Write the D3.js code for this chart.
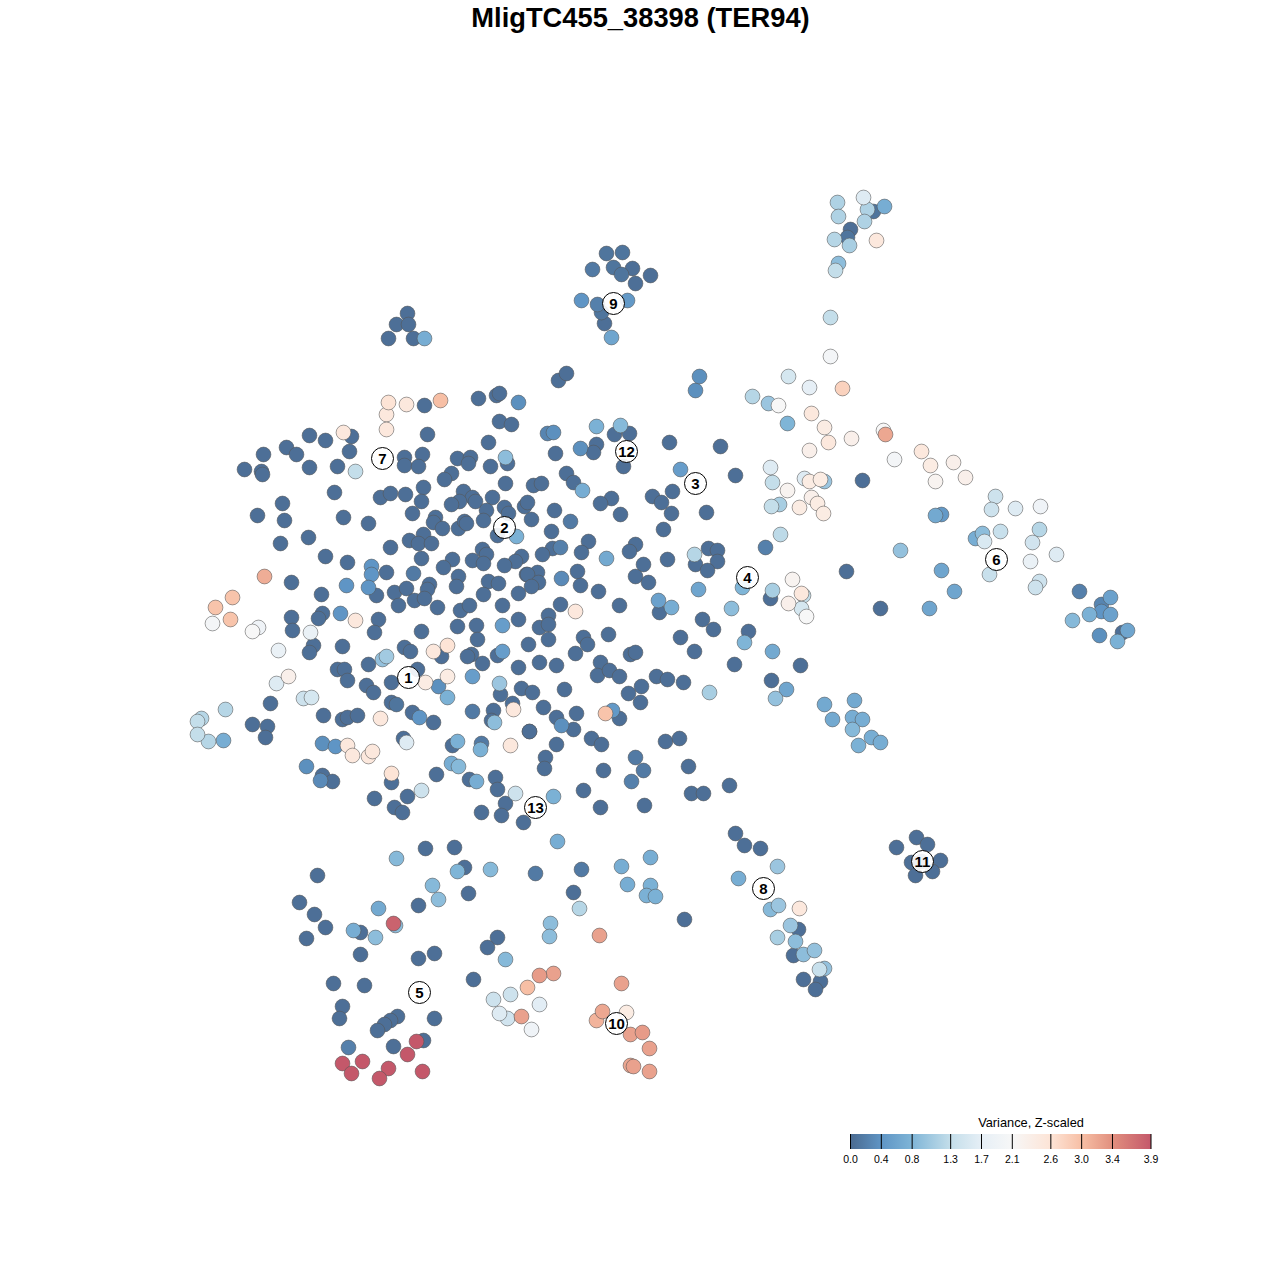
<!DOCTYPE html>
<html>
<head>
<meta charset="utf-8">
<script src="https://cdn.jsdelivr.net/npm/d3@7"></script>
<style>
  html, body { margin: 0; background: #fff; }
  text { font-family: "Liberation Sans", Arial, sans-serif; }
</style>
</head>
<body>
<div id="chart"></div>
<script>
// cells as [tSNE 1, tSNE 2, variance]
const coreUpperLeft = [
  [388,402,2.6],[406,404,2.5],[424,405,0.05],[440,400,3.0],[478,398,0.05],[496,395,0.05],[499,393,0.05],[518,402,0.35],
  [386,414,2.5],[386,429,2.5],[499,421,0.05],[511,424,0.05],[427,434,0.05],[343,432,2.5],[351,436,0.05],[309,435,0.05],
  [325,440,0.05],[286,447,0.05],[296,454,0.05],[263,454,0.05],[349,451,0.05],[488,442,0.05],[404,457,0.05],[422,454,0.05],
  [404,465,0.05],[418,466,0.05],[457,458,0.05],[470,457,0.05],[468,463,0.05],[490,466,0.05],[505,457,0.9],[507,463,0.05],
  [244,469,0.05],[261,471,0.05],[262,474,0.05],[309,467,0.05],[337,466,0.05],[355,471,1.3],[451,473,0.05],[444,479,0.05],
  [423,487,0.05],[505,483,0.05],[533,485,0.05],[334,492,0.05],[380,497,0.05],[390,493,0.05],[405,494,0.05],[421,501,0.05],
  [463,491,0.05],[472,497,0.05],[459,501,0.05],[451,504,0.05],[475,501,0.05],[492,497,0.05],[486,510,0.05],[504,507,0.05],
  [508,513,0.05],[524,506,0.05],[527,502,0.05],[282,503,0.05],[257,515,0.05],[284,520,0.05],[343,517,0.05],[368,523,0.05],
  [412,513,0.05],[435,517,0.05],[433,522,0.05],[442,528,0.05],[458,528,0.05],[464,521,0.05],[466,523,0.05],[483,520,0.05],
  [531,519,0.05],[280,543,0.05],[308,537,0.05],[390,547,0.05],[409,540,0.05],[423,534,0.05],[418,543,0.05],[431,543,0.05],
  [497,535,0.05],[516,536,0.75]
];
const coreLowerLeft = [
  [325,556,0.05],[347,562,0.05],[371,566,0.4],[371,574,0.4],[386,572,0.05],[421,558,0.05],[452,559,0.05],[443,567,0.05],
  [472,560,0.05],[482,549,0.05],[486,554,0.05],[483,563,0.05],[521,556,0.05],[515,561,0.05],[504,565,0.05],[526,574,0.05],
  [413,573,0.15],[458,576,0.05],[456,586,0.05],[488,581,0.05],[498,583,0.05],[264,576,3.15],[291,582,0.05],[346,585,0.4],
  [368,587,0.4],[376,595,0.05],[394,592,0.05],[406,588,0.05],[429,584,0.05],[427,589,0.05],[414,600,0.05],[424,598,0.05],
  [483,594,0.05],[518,593,0.05],[232,597,2.95],[321,594,0.05],[398,605,0.05],[437,607,0.05],[460,610,0.05],[469,605,0.05],
  [502,605,0.05],[230,619,2.95],[215,607,2.95],[291,617,0.05],[322,613,0.05],[318,618,0.05],[340,613,0.4],[355,620,2.5],
  [378,619,0.05],[374,632,0.05],[252,631,2.1],[258,627,1.9],[292,630,0.05],[310,632,1.8],[457,626,0.05],[476,625,0.05],
  [502,625,0.5],[518,619,0.05],[421,631,0.05],[477,639,0.05],[278,650,1.8],[342,646,0.05],[313,645,0.05],[309,652,0.05],
  [404,647,0.05],[410,651,0.05],[433,651,2.5],[447,645,2.6],[441,656,0.05],[382,659,0.95],[386,656,1.05],[368,664,0.05],
  [471,654,0.05],[467,656,0.05],[482,663,0.05],[497,655,0.05],[502,651,0.5],[528,644,0.05],[518,667,0.05],[337,669,0.05],
  [344,669,0.05],[347,680,0.05]
];
const coreBottomLeft = [
  [288,676,2.3],[276,683,1.6],[366,685,0.05],[373,692,0.05],[391,682,0.05],[417,669,0.05],[425,682,2.4],[447,676,2.4],
  [438,686,0.35],[447,697,0.75],[472,676,0.5],[499,683,1.0],[500,694,0.05],[521,688,0.05],[532,692,0.05],[303,698,1.4],
  [311,697,1.5],[270,703,0.05],[391,702,0.05],[396,704,0.1],[412,712,0.05],[419,717,0.4],[433,722,0.05],[472,711,0.15],
  [493,710,0.05],[491,720,0.05],[494,722,0.9],[512,703,0.05],[513,709,2.5],[323,715,0.05],[342,719,0.05],[347,717,0.05],
  [357,715,0.05],[380,718,2.5],[252,724,0.05],[267,726,0.05],[265,737,0.05],[322,743,0.35],[335,746,0.4],[347,745,2.5],
  [352,755,2.5],[368,756,2.5],[372,751,2.5],[403,738,0.05],[406,742,1.6],[452,745,0.05],[457,741,0.75],[481,743,0.15],
  [480,749,0.75],[510,745,2.5],[529,731,0.05],[306,766,0.35],[322,775,0.05],[320,780,0.3],[332,781,0.05],[451,763,0.7],
  [458,766,0.85],[436,774,0.05],[391,773,2.6],[391,782,0.05],[469,779,0.05],[476,781,0.7],[495,777,0.05],[497,789,0.05],
  [515,793,1.4],[421,790,1.4],[407,796,0.05],[374,798,0.05],[394,807,0.05],[402,812,0.05],[505,803,0.05],[481,812,0.05],
  [501,815,0.05],[523,822,0.05]
];
const coreRight = [
  [695,390,0.35],[699,376,0.35],[752,396,1.2],[768,403,1.0],[778,405,2.1],[787,423,0.8],[558,380,0.05],[566,373,0.05],
  [596,426,0.75],[620,425,0.85],[614,434,0.05],[629,433,0.05],[547,433,0.25],[553,432,0.35],[669,442,0.05],[720,446,0.05],
  [580,448,0.35],[596,444,0.05],[593,452,0.05],[555,453,0.05],[623,466,0.05],[680,469,0.5],[735,475,0.05],[770,467,1.6],
  [772,482,1.3],[787,490,2.2],[566,473,0.05],[573,482,0.05],[582,490,0.7],[541,483,0.05],[672,491,0.05],
  [652,496,0.05],[661,502,0.05],[611,498,0.05],[600,503,0.05],[554,510,0.05],[671,513,0.05],[706,512,0.05],[620,514,0.05],
  [570,521,0.15],[663,529,0.05],[551,531,0.05],[771,506,1.3],[779,504,1.1],[799,507,2.4],[780,534,1.25],[765,547,0.2],
  [588,541,0.05],[581,552,0.05],[606,558,0.65],[635,544,0.05],[629,551,0.05],[552,548,0.05],[560,547,0.2],[542,554,0.05],
  [667,559,0.05],[643,564,0.05],[694,554,1.2],[695,564,0.05],[708,548,0.05],[717,550,0.05],[717,561,0.05],[707,570,0.05],
  [577,571,0.05],[537,572,0.05],[527,574,0.05],[538,582,0.05],[531,586,0.05],[561,578,0.3],[635,576,0.05],[580,585,0.05],
  [648,582,0.05],[598,591,0.05],[698,589,0.6],[742,587,0.8],[772,590,1.1],[770,598,0.05],[658,600,0.55],[671,607,0.7],
  [659,612,0.05],[731,608,0.9],[560,604,0.05],[575,611,2.5],[619,605,0.05],[548,615,0.05],[539,627,0.05],[548,624,0.05],
  [702,619,0.05],[713,629,0.05],[748,631,0.05],[744,642,0.8],[608,634,0.05],[548,639,0.05],[583,637,0.05],[587,644,0.05],
  [680,637,0.05],[694,651,0.05],[575,653,0.05],[630,654,0.05],[635,652,0.05],[772,651,0.65],[539,662,0.05],[556,665,0.05],
  [600,662,0.05],[597,675,0.05],[609,670,0.05],[619,676,0.05],[656,676,0.05],[667,679,0.05],[683,682,0.05],[734,664,0.05],
  [800,665,0.05],[641,686,0.05],[628,693,0.05],[640,702,0.05],[564,689,0.05],[709,692,1.1],[771,680,0.05],[786,689,0.6],
  [775,698,0.95],[543,707,0.05],[556,717,0.05],[576,713,0.05],[561,725,0.35],[573,729,0.05],[605,713,2.95],[612,710,0.45],
  [619,718,0.05],[529,731,0.05],[591,738,0.05],[601,744,0.05],[556,744,0.05],[545,757,0.05],[544,768,0.05],[665,741,0.05],
  [679,738,0.05],[635,757,0.15],[643,770,0.15],[631,781,0.2],[603,770,0.05],[688,766,0.05],[691,793,0.05],[703,793,0.05],
  [729,785,0.05],[583,790,0.05],[553,796,0.75],[600,807,0.05],[644,805,0.05]
];
const upperClusters = [
  [606,253,0.1],[622,252,0.1],[592,269,0.15],[613,267,0.1],[632,268,0.05],[621,274,0.1],[650,275,0.05],[635,283,0.05],
  [581,300,0.4],[597,304,0.2],[627,300,0.45],[601,312,0.1],[604,323,0.05],[611,337,0.6],
  [407,313,0.05],[396,324,0.05],[408,324,0.05],[388,338,0.05],[413,338,0.05],[424,338,0.7],
  [837,202,1.15],[863,197,1.6],[867,209,1.15],[873,211,0.1],[884,206,0.7],[838,216,1.15],[864,221,1.15],[850,229,0.05],
  [847,237,0.1],[834,239,1.2],[849,245,1.1],[876,240,2.5],[838,263,0.9],[835,270,1.3],[830,317,1.3],[830,356,2.0]
];
const rightArm = [
  [788,376,1.5],[809,387,1.7],[842,388,2.8],[811,413,2.5],[824,427,2.4],[828,442,2.5],[851,438,2.3],[809,450,2.3],
  [883,430,2.1],[885,434,3.2],[921,451,2.5],[930,465,2.4],[953,462,2.3],[894,459,2.0],[935,481,2.2],[965,477,2.3],
  [804,478,1.6],[809,481,2.4],[820,479,2.4],[824,481,1.0],[811,497,2.3],[817,503,2.4],[823,513,2.4],[862,480,0.05],
  [995,496,1.4],[991,509,1.4],[1015,508,1.6],[1040,506,1.9],[935,515,0.65],[941,514,0.45],[1039,529,1.2],[982,533,0.9],
  [975,538,0.7],[1000,531,1.35],[984,541,1.55],[1032,542,1.45],[900,550,0.95],[1056,554,1.6],[1030,561,1.8],[941,570,0.6],
  [989,574,1.35],[1039,581,1.4],[1035,587,1.4],[954,591,0.6],[929,608,0.6],[880,608,0.05],[846,571,0.05],[1079,591,0.2],
  [1110,597,0.55],[1101,604,0.25],[1101,611,0.4],[1089,614,0.75],[1110,614,0.55],[1072,620,0.85],[1099,635,0.35],[1122,632,0.05],
  [1127,630,0.6],[1117,641,0.75],
  [792,579,2.2],[801,593,2.5],[803,595,1.3],[788,603,2.3],[801,608,1.5],[806,616,2.1],
  [824,704,0.65],[854,700,0.65],[832,719,0.65],[852,717,0.7],[862,719,0.7],[852,729,0.85],[871,737,0.7],[880,742,0.7],[858,745,0.75]
];
const farLeft = [
  [197,721,1.3],[201,718,1.2],[197,734,1.3],[208,741,1.2],[223,740,0.7],[225,709,1.2],[212,623,2.0]
];
const lowerArm = [
  [916,837,0.05],[927,844,0.05],[896,847,0.05],[911,862,0.05],[940,860,0.05],[932,871,0.05],[915,875,0.05],[921,861,0.05],
  [735,833,0.05],[744,845,0.05],[760,848,0.05],[777,866,1.0],[738,878,0.7],[799,908,2.5],[778,905,1.0],[770,909,0.85],
  [790,925,1.0],[798,929,0.05],[777,937,1.1],[795,941,0.9],[793,955,0.05],[803,954,0.9],[814,950,0.95],[824,968,0.95],
  [819,969,1.35],[803,979,0.05],[820,981,0.05],[815,989,0.05]
];
const bottomCells = [
  [557,841,0.7],[425,848,0.05],[454,847,0.05],[396,858,0.85],[464,867,0.05],[457,871,0.8],[490,869,0.85],[535,873,0.15],
  [581,869,0.15],[621,866,0.7],[650,857,0.7],[317,875,0.05],[432,885,0.85],[627,884,0.7],[650,885,0.75],[646,895,0.75],
  [655,896,0.75],[573,892,0.05],[468,893,0.05],[438,899,0.9],[418,905,0.05],[299,902,0.05],[579,908,1.2],[378,908,0.65],
  [314,914,0.05],[684,919,0.05],[393,923,3.8],[395,925,0.9],[550,923,0.9],[325,927,0.05],[353,930,0.7],[360,932,0.05],
  [375,937,0.9],[549,936,0.9],[599,935,3.25],[306,938,0.05],[497,937,0.05],[487,947,0.05],[434,953,0.05],[360,954,0.05],
  [418,958,0.05],[505,959,0.85],[553,973,3.25],[539,975,3.3],[473,979,0.05],[333,983,0.05],[364,985,0.05],[527,987,3.0],
  [621,983,3.25],[510,994,1.4],[493,999,1.4],[539,1004,1.65],[342,1006,0.05],[602,1011,3.2],[626,1012,2.4],[499,1013,1.6],
  [507,1018,1.45],[521,1016,3.25],[339,1018,0.05],[434,1018,0.05],[596,1020,3.1],[397,1016,0.05],[390,1020,0.05],[384,1024,0.05],
  [377,1030,0.05],[531,1029,1.9],[642,1032,3.3],[630,1034,3.25],[649,1048,3.25],[423,1040,0.05],[416,1041,3.9],[393,1046,0.05],
  [348,1047,0.2],[407,1054,3.9],[342,1063,3.9],[362,1061,3.9],[351,1073,3.9],[388,1068,3.9],[379,1078,3.9],[422,1071,3.9],
  [630,1065,3.2],[633,1066,3.25],[649,1071,3.25]
];
// cluster numbers and where they sit
const clusterIds = [1,2,3,4,5,6,7,8,9,10,11,12,13];
const clusterX = [408,504,695,747,419,996,382,763,613,616,922,626,535];
const clusterY = [677,527,483,577,992,559,458,888,303,1023,861,451,807];
const legendTicks = [0.0,0.4,0.8,1.3,1.7,2.1,2.6,3.0,3.4,3.9];
const legendColors = ["#4a6a90","#5f95c5","#7fb5d7","#c4deea","#e6eff6","#f7f7f7","#fde4d6","#f7bfa5","#e18f7e","#c4586a"];

const size = 1280;
const svg = d3.select("#chart").append("svg").attr("width", size).attr("height", size);

const x = d3.scaleLinear().domain([0, size]).range([0.5, size + 0.5]);
const y = d3.scaleLinear().domain([0, size]).range([0.5, size + 0.5]);
const color = d3.scaleLinear().domain(legendTicks).range(legendColors).clamp(true);

svg.append("text")
  .attr("x", 640.5).attr("y", 27)
  .attr("text-anchor", "middle")
  .style("font-size", "27.3px").style("font-weight", "bold")
  .text("MligTC455_38398 (TER94)");

// low variance first so the pale cells end up on top
const cells = [...coreUpperLeft, ...coreLowerLeft, ...coreBottomLeft, ...coreRight,
  ...upperClusters, ...rightArm, ...farLeft, ...lowerArm, ...bottomCells]
  .sort((a, b) => a[2] - b[2]);

svg.append("g").selectAll("circle")
  .data(cells)
  .enter()
  .append("circle")
  .attr("cx", d => x(d[0]))
  .attr("cy", d => y(d[1]))
  .attr("r", 7.4)
  .attr("fill", d => color(d[2]))
  .attr("stroke", "#555")
  .attr("stroke-opacity", 0.55)
  .attr("stroke-width", 1);

const labels = svg.append("g").selectAll("g")
  .data(clusterIds)
  .enter()
  .append("g")
  .attr("transform", (d, i) => `translate(${x(clusterX[i])},${y(clusterY[i])})`);

labels.append("circle")
  .attr("r", 11)
  .attr("fill", "#fff")
  .attr("fill-opacity", 0.9)
  .attr("stroke", "#000")
  .attr("stroke-width", 1);

labels.append("text")
  .attr("text-anchor", "middle")
  .attr("y", 5.5)
  .style("font-size", "15px")
  .style("font-weight", "bold")
  .text(d => d);

// legend
const legendX = d3.scaleLinear().domain([0, 3.9]).range([850.5, 1151]);
const legendTop = 1134, legendHeight = 15;

const grad = svg.append("defs").append("linearGradient").attr("id", "varianceGrad");
grad.selectAll("stop")
  .data(legendTicks)
  .enter()
  .append("stop")
  .attr("offset", d => d / 3.9)
  .attr("stop-color", d => color(d));

const legend = svg.append("g");
legend.append("rect")
  .attr("x", legendX(0)).attr("y", legendTop)
  .attr("width", legendX(3.9) - legendX(0)).attr("height", legendHeight)
  .attr("fill", "url(#varianceGrad)");

legend.selectAll("line")
  .data(legendTicks)
  .enter()
  .append("line")
  .attr("x1", d => legendX(d)).attr("x2", d => legendX(d))
  .attr("y1", legendTop).attr("y2", legendTop + legendHeight)
  .attr("stroke", "#000");

legend.selectAll(".tick-label")
  .data(legendTicks)
  .enter()
  .append("text")
  .attr("class", "tick-label")
  .attr("x", d => legendX(d))
  .attr("y", 1163)
  .attr("text-anchor", "middle")
  .style("font-size", "10.5px")
  .text(d => d.toFixed(1));

legend.append("text")
  .attr("x", 1031).attr("y", 1127)
  .attr("text-anchor", "middle")
  .style("font-size", "12.8px")
  .text("Variance, Z-scaled");
</script>
</body>
</html>
